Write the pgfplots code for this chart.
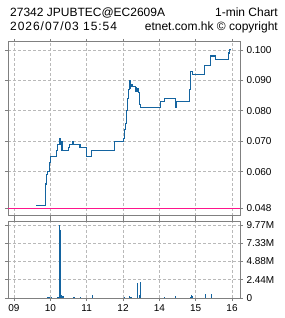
\documentclass[border=0pt]{standalone}
\usepackage{pgfplots}
\pgfplotsset{compat=1.18}
\usepackage{fontspec}
\setmainfont{Liberation Sans}
\definecolor{lineblue}{RGB}{20,100,160}
\definecolor{pinkline}{RGB}{255,20,140}
\definecolor{gridgray}{RGB}{185,185,185}
\definecolor{framegray}{RGB}{128,128,128}
\pgfplotsset{
  etnet/.style={
    scale only axis,
    anchor=south west,
    width=232bp,
    xmin=-0.165, xmax=6.22,
    xtick={0,1,2,3,4,5,6},
    axis line style={framegray, line width=1bp},
    grid=major,
    major grid style={gridgray, line width=0.8bp, dash pattern=on 2.5bp off 2.5bp},
    tick align=outside,
    major tick length=3bp,
    tick style={framegray, line width=0.8bp},
    yticklabel pos=right,
    ticklabel style={font=\fontsize{10bp}{12bp}\selectfont},
    /pgf/number format/assume math mode=true,
    scaled y ticks=false,
    clip=true,
  }
}
\begin{document}
\begin{tikzpicture}[x=1bp,y=1bp]
\path[use as bounding box] (0,0) rectangle (285,318);
\node[anchor=base west, font=\fontsize{12bp}{14bp}\selectfont, inner sep=0] at (10,302) {27342 JPUBTEC@EC2609A};
\node[anchor=base east, font=\fontsize{12bp}{14bp}\selectfont, inner sep=0] at (278,302) {1-min Chart};
\node[anchor=base west, font=\fontsize{12bp}{14bp}\selectfont, inner sep=0] at (10,287.5) {\addfontfeature{LetterSpace=8}2026/07/03 15:54};
\node[anchor=base east, font=\fontsize{12bp}{14bp}\selectfont, inner sep=0] at (278,287.5) {etnet.com.hk © copyright};

\begin{axis}[etnet,
  at={(8bp,102bp)},
  height=174bp,
  ymin=0.0455, ymax=0.1026,
  ytick={0.048,0.060,0.070,0.080,0.090,0.100},
  yticklabels={0.048,0.060,0.070,0.080,0.090,0.100},
  xticklabels={},
]
\addplot[pinkline, line width=1.2bp] coordinates {(-0.165,0.048) (6.22,0.048)};
\addplot[const plot, lineblue, line width=1.1bp] coordinates {
(0.606,0.049) (0.862,0.056) (0.890,0.059) (0.927,0.060) (0.972,0.063)
(1.000,0.065) (1.174,0.067) (1.202,0.069) (1.248,0.071) (1.266,0.069)
(1.284,0.070) (1.321,0.067) (1.495,0.068) (1.523,0.069) (1.615,0.070)
(1.633,0.069) (1.817,0.068) (2.000,0.065) (2.128,0.067) (2.771,0.070)
(3.009,0.071) (3.037,0.074) (3.064,0.076) (3.101,0.080) (3.128,0.084)
(3.156,0.087) (3.174,0.090) (3.193,0.0875) (3.211,0.0886) (3.248,0.088)
(3.349,0.0875) (3.358,0.0864) (3.394,0.0873) (3.422,0.086) (3.450,0.082)
(3.486,0.081) (4.022,0.083) (4.132,0.084) (4.454,0.081) (4.472,0.083)
(4.830,0.087) (4.848,0.092) (4.866,0.093) (4.903,0.092) (5.234,0.095)
(5.418,0.098) (5.546,0.097) (5.904,0.099) (5.931,0.100) (5.941,0.100)
};
\end{axis}

\begin{axis}[etnet,
  at={(8bp,20bp)},
  height=76bp,
  ymin=0, ymax=10.17,
  ytick={0,2.44,4.88,7.33,9.77},
  yticklabels={0,2.44M,4.88M,7.33M,9.77M},
  xticklabels={09,10,11,12,14,15,16},
]
\addplot[ycomb, lineblue, line width=1.1bp] coordinates {
(0.917,0.2) (0.964,0.1) (1.020,0.1) (1.198,0.1) (1.226,0.15)
(1.253,9.77) (1.281,9.1) (1.309,0.4) (1.350,0.25) (1.634,0.1)
(1.653,0.1) (1.818,0.1) (2.149,0.4) (3.040,0.1) (3.170,0.25)
(3.220,0.1) (3.397,2.07) (3.452,0.35) (3.480,2.2) (4.020,0.05)
(4.140,0.1) (4.445,0.3) (4.866,0.2) (4.894,0.4) (4.920,0.25)
(5.270,0.5) (5.435,0.5)
};
\end{axis}
\end{tikzpicture}
\end{document}
